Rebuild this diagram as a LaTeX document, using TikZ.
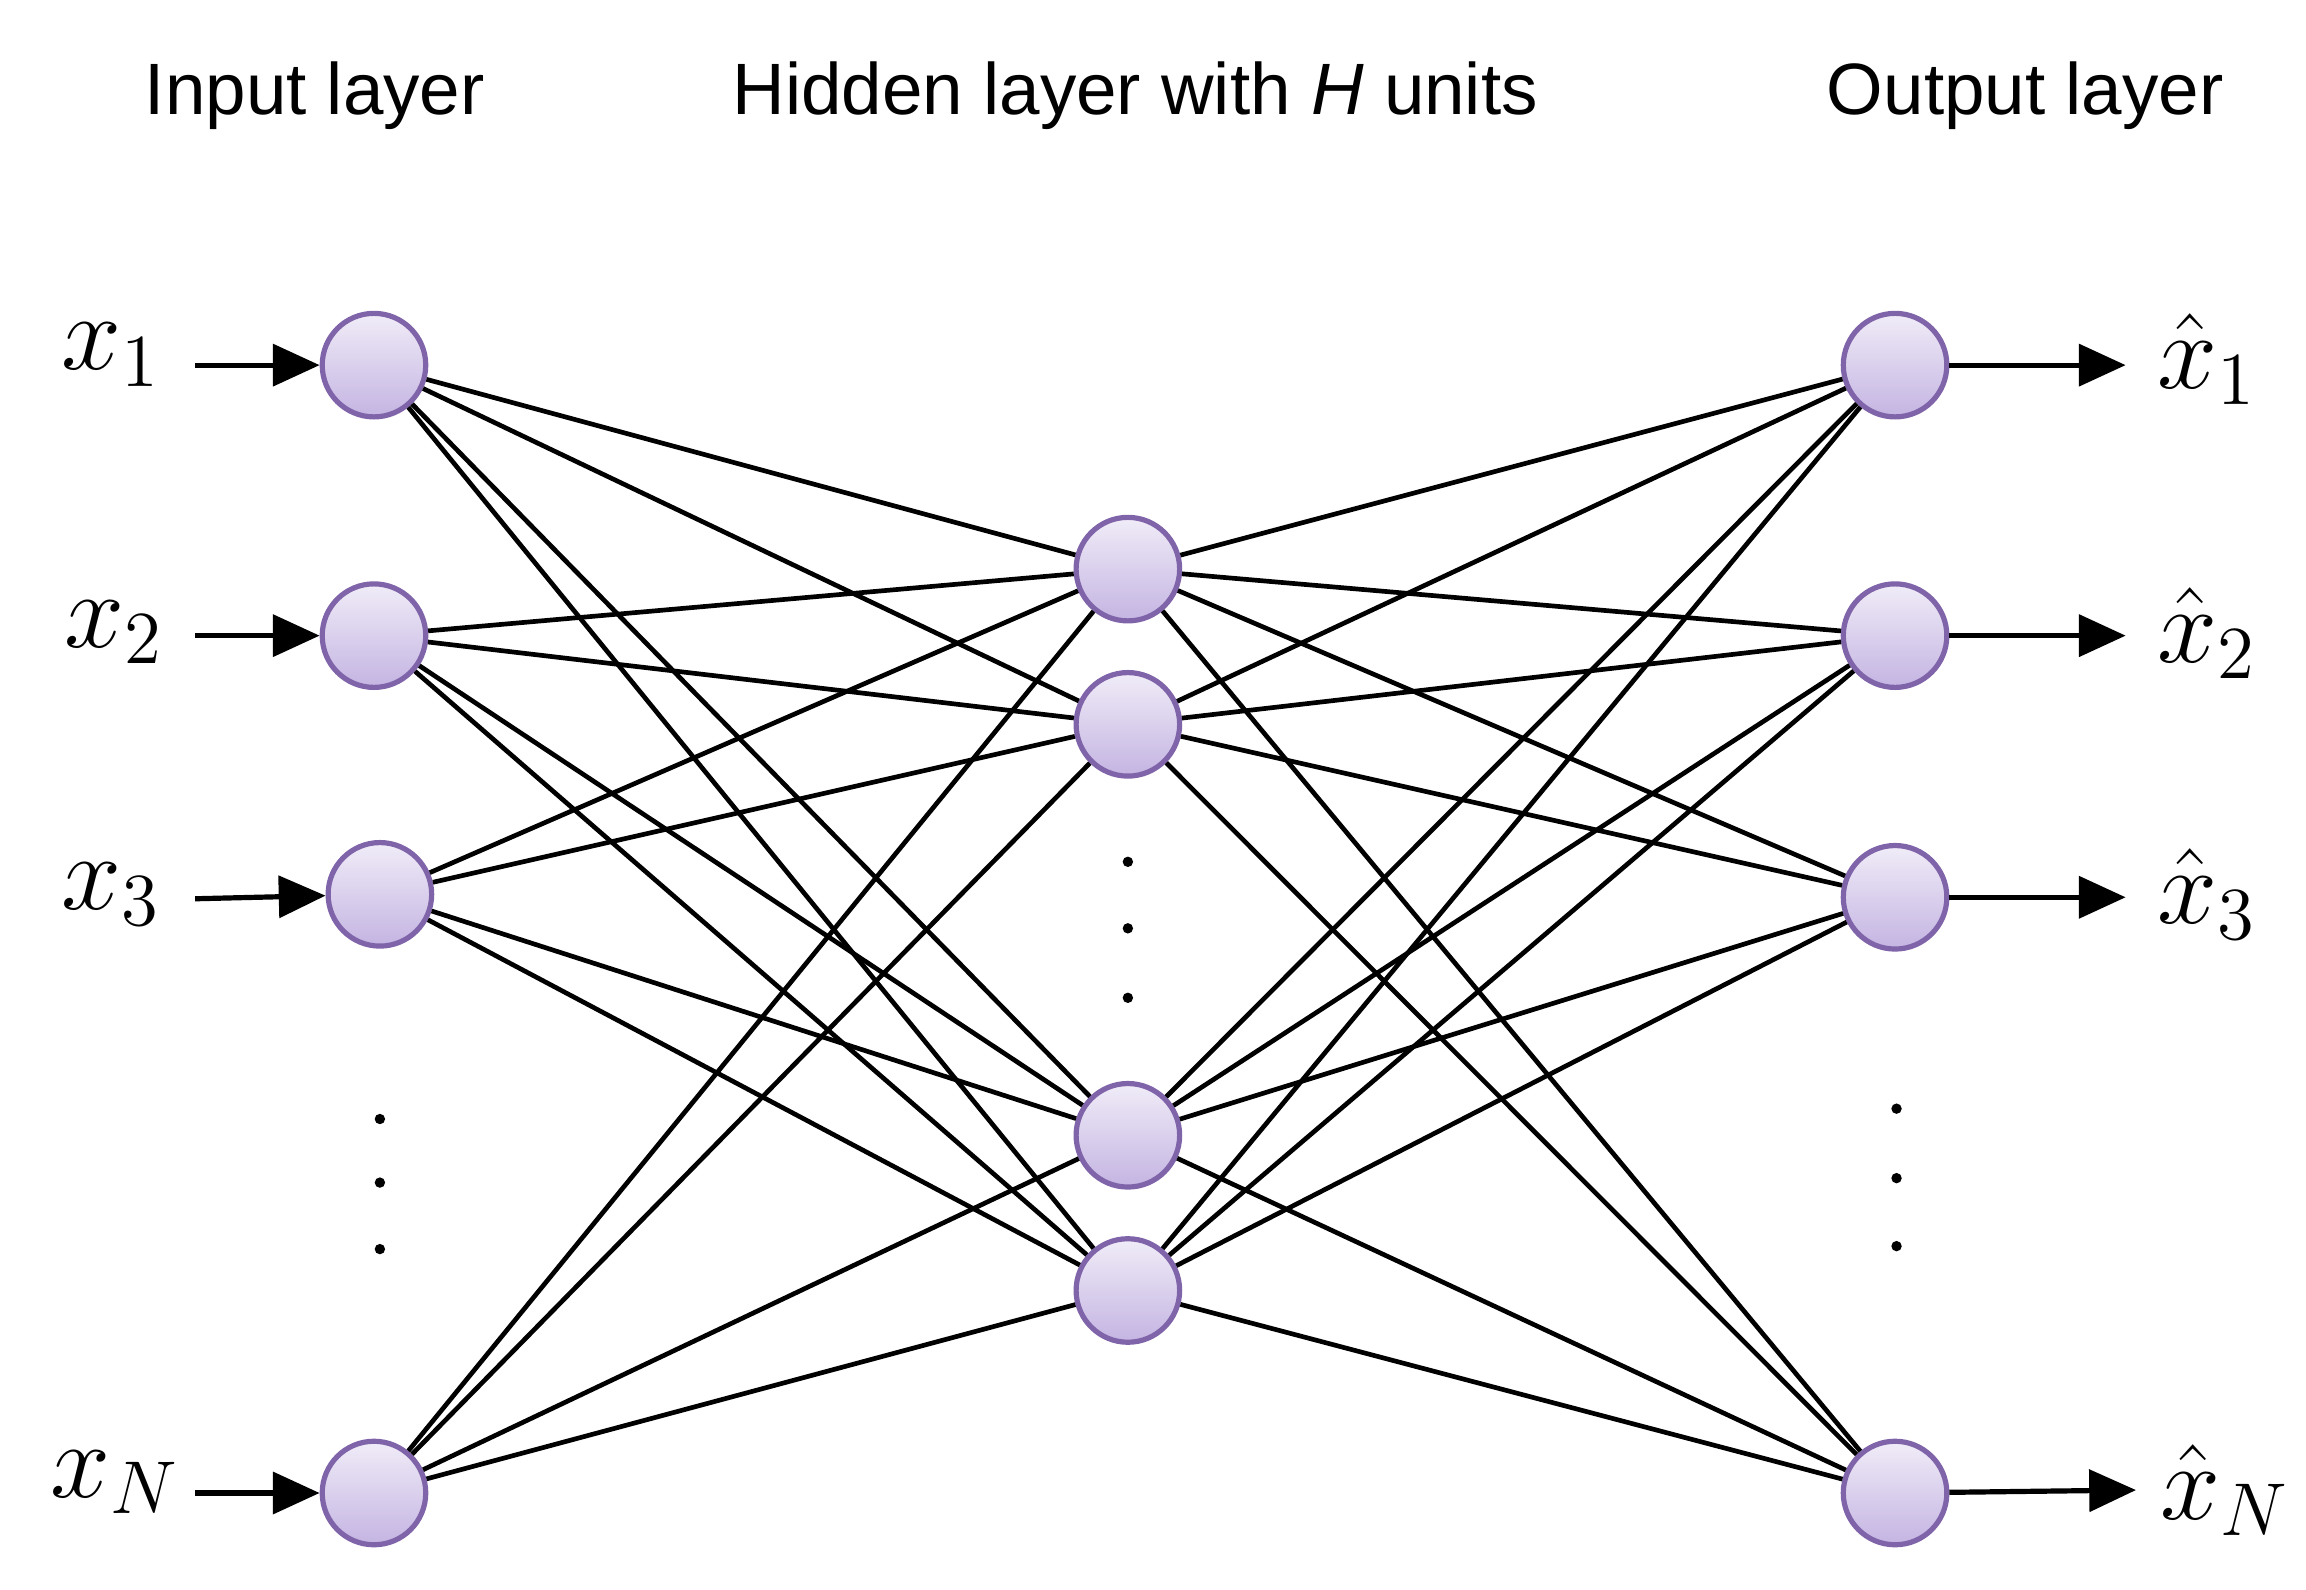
\documentclass[tikz,border=0pt]{standalone}
\usepackage{fontspec}
\usetikzlibrary{arrows.meta}
\newfontfamily\sansfont{Liberation Sans}
\definecolor{rand}{RGB}{128,100,170}
\definecolor{fuell}{RGB}{196,180,226}
\tikzset{
    neuron/.style={circle, draw=rand, line width=1pt, top color=fuell!25, bottom color=fuell, minimum size=0.7cm, inner sep=0pt},
    titel/.style={font=\sansfont\fontsize{14}{16}\selectfont},
    lbl/.style={font=\fontsize{21}{24}\selectfont},
    punkt/.style={circle, fill=black, inner sep=0pt, minimum size=2pt},
    pfeil/.style={-{Triangle[length=9pt,width=8pt]}, line width=1pt}
}
\begin{document}
\begin{tikzpicture}[x=0.01cm, y=-0.01cm]
        \useasboundingbox (0,0) rectangle (1560,1075);

        %Titel
        \node[titel] (ti) at (213,65) {Input layer};
        \node[titel] (th) at (768,65) {Hidden layer with \textit{H} units};
        \node[titel] (to) at (1370,65) {Output layer};

        %Neuronen
        \node[neuron] (i1) at (253,247) {};
        \node[neuron] (i2) at (253,430) {};
        \node[neuron] (i3) at (257,605) {};
        \node[neuron] (i4) at (253,1010) {};
        \node[neuron] (h1) at (763,385) {};
        \node[neuron] (h2) at (763,490) {};
        \node[neuron] (h3) at (763,768) {};
        \node[neuron] (h4) at (763,873) {};
        \node[neuron] (o1) at (1282,247) {};
        \node[neuron] (o2) at (1282,430) {};
        \node[neuron] (o3) at (1282,607) {};
        \node[neuron] (o4) at (1282,1010) {};

        %Punkte
        \foreach \y [count=\k] in {757,800,845} \node[punkt] (pi\k) at (257,\y) {};
        \foreach \y [count=\k] in {583,628,675} \node[punkt] (ph\k) at (763,\y) {};
        \foreach \y [count=\k] in {750,797,843} \node[punkt] (po\k) at (1283,\y) {};

        %Verbindungen
        \foreach \a in {1,...,4}
            \foreach \b in {1,...,4} {
                \draw[line width=0.9pt] (i\a) -- (h\b);
                \draw[line width=0.9pt] (h\a) -- (o\b);
            }

        %Ein- und Ausgaben
        \node[lbl] (x1) at (75,240) {$x_1$};
        \node[lbl] (x2) at (77,428) {$x_2$};
        \node[lbl] (x3) at (75,605) {$x_3$};
        \node[lbl] (x4) at (78,1003) {$x_N$};
        \node[lbl] (y1) at (1493,243) {$\hat{x}_1$};
        \node[lbl] (y2) at (1493,428) {$\hat{x}_2$};
        \node[lbl] (y3) at (1493,605) {$\hat{x}_3$};
        \node[lbl] (y4) at (1505,1008) {$\hat{x}_N$};
        \foreach \k/\y in {1/247,2/430,3/608,4/1010}
            \coordinate (a\k) at (132,\y);
        \foreach \k/\x/\y in {1/1438/247,2/1438/430,3/1438/607,4/1445/1008}
            \coordinate (e\k) at (\x,\y);
        \foreach \k in {1,...,4} {
            \draw[pfeil] (a\k) -- (i\k);
            \draw[pfeil] (o\k) -- (e\k);
        }
    \end{tikzpicture}
\end{document}
